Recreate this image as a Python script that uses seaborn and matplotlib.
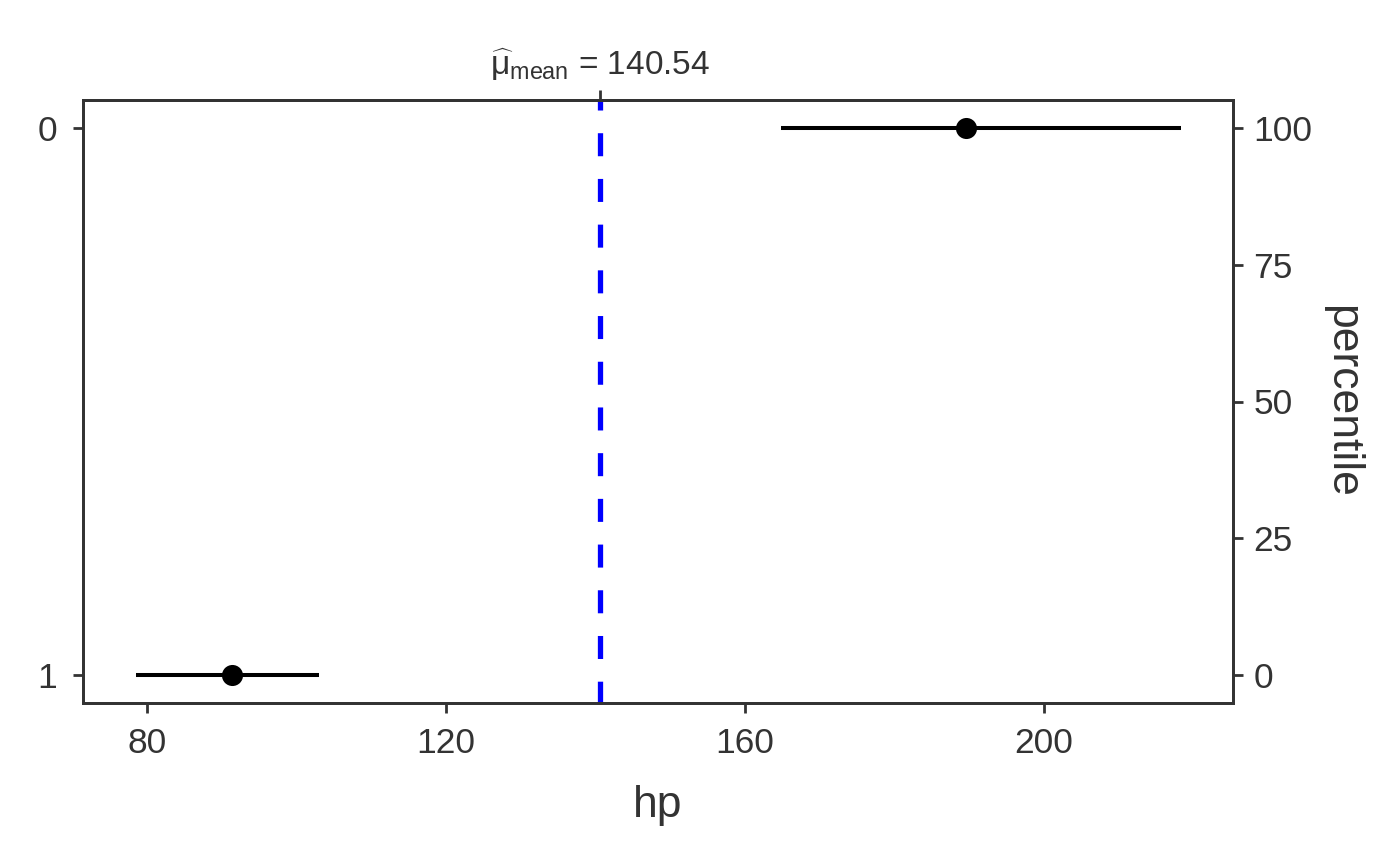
import matplotlib
matplotlib.use("Agg")
import matplotlib.pyplot as plt
import seaborn as sns
import pandas as pd

# data
groups = ["0", "1"]
hp_mean = [189.6, 91.4]
ci_low = [164.8, 78.5]
ci_high = [218.3, 103.0]
percentile_ticks = [0, 25, 50, 75, 100]
x_ticks = [80, 120, 160, 200]
grand_mean = 140.54

sns.set_theme(style="ticks")
plt.rcParams['font.family'] = ['Liberation Sans', 'DejaVu Sans']
plt.rcParams['mathtext.fontset'] = 'custom'
plt.rcParams['mathtext.rm'] = 'Liberation Sans'
plt.rcParams['mathtext.it'] = 'Liberation Sans'

df = pd.DataFrame({"group": groups, "hp": hp_mean, "lo": ci_low, "hi": ci_high})
df["ypos"] = range(len(df))

dark = "#333333"
TICK = 25.5
TITLE = 32
LW = 2.0
fig = plt.figure(figsize=(14, 8.65), dpi=100)
ax = fig.add_axes([83/1400, 1-703/865, (1233-83)/1400, (703-100)/865])

ylo, yhi = 1.0512, -0.0512
ax.hlines(df["ypos"], df["lo"], df["hi"], color="black", lw=2.9, zorder=2)
sns.scatterplot(data=df, x="hp", y="ypos", ax=ax, color="black", s=230,
                edgecolor="black", linewidth=0, zorder=3, legend=False)
ax.plot([grand_mean, grand_mean], [yhi, ylo], color="#0000FF", lw=3.8,
        linestyle=(2.46, (4.36, 4.3)), zorder=1)

ax.set_xlim(71.44, 225.28)
ax.set_ylim(ylo, yhi)
ax.set_yticks(df["ypos"])
ax.set_yticklabels(groups)
ax.set_xticks(x_ticks)
ax.set_xlabel("hp", fontsize=TITLE, color=dark, labelpad=18)
ax.set_ylabel("")

for s in ax.spines.values():
    s.set_color(dark)
    s.set_linewidth(LW)
ax.tick_params(axis="x", colors=dark, labelcolor=dark, labelsize=TICK,
               length=7.5, width=LW, pad=10)
ax.tick_params(axis="y", colors=dark, labelcolor=dark, labelsize=TICK,
               length=7.5, width=LW, pad=11)

ax2 = ax.twinx()
ax2.set_ylim(-5.12, 105.12)
ax2.set_yticks(percentile_ticks)
ax2.set_ylabel("percentile", fontsize=TITLE, color=dark, rotation=-90, labelpad=36)
ax2.tick_params(axis="y", colors=dark, labelcolor=dark, labelsize=TICK,
                length=7.5, width=LW, pad=7)
for s in ax2.spines.values():
    s.set_color(dark)
    s.set_linewidth(LW)

sec = ax.secondary_xaxis("top")
sec.set_xticks([grand_mean])
sec.set_xticklabels([r"$\widehat{\mathrm{\mu}}_{\mathrm{mean}}$ = 140.54"])
sec.tick_params(axis="x", colors=dark, labelcolor=dark, labelsize=24,
                length=7.5, width=LW, pad=5)
sec.spines["top"].set_color(dark)
sec.spines["top"].set_linewidth(LW)

fig.savefig("out.png", dpi=100)
